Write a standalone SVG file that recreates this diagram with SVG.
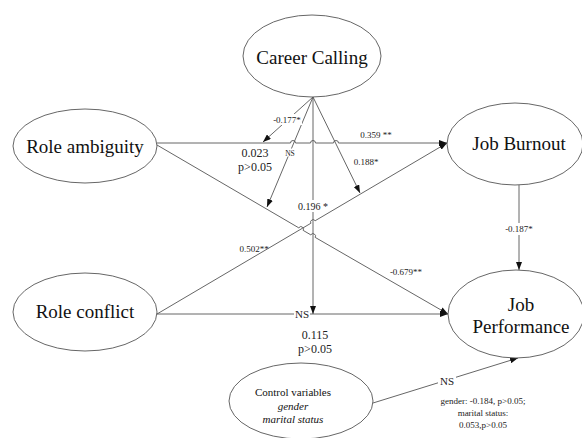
<svg xmlns="http://www.w3.org/2000/svg" width="582" height="438" viewBox="0 0 582 438">
<style>
.node{fill:#fff;stroke:#555;stroke-width:0.9}
.big{font-family:"Liberation Serif",serif;font-size:19px;fill:#111;text-anchor:middle}
.ctl{font-family:"Liberation Serif",serif;font-size:11px;fill:#111;text-anchor:middle}
.it{font-style:italic}
.edge{fill:none;stroke:#555;stroke-width:0.9}
.arr{marker-end:url(#ah)}
.lbl{font-family:"Liberation Serif",serif;font-size:9px;fill:#222;text-anchor:middle}
.mid{font-family:"Liberation Serif",serif;font-size:12px;fill:#222;text-anchor:middle}
.ns{font-family:"Liberation Serif",serif;font-size:11px;fill:#222;text-anchor:middle}
.bg{fill:#fff;stroke:none}
</style>
<defs>
<marker id="ah" markerUnits="userSpaceOnUse" markerWidth="8" markerHeight="6" refX="8" refY="3" orient="auto">
<path d="M0,0 L8,3 L0,6 z" fill="#111"/>
</marker>
</defs>
<rect width="582" height="438" fill="#fff"/>

<g id="connectors">
<path class="edge arr" d="M157,143 H290.5 a2.5,2.5 0 0 1 5,0 H310.5 a2.5,2.5 0 0 1 5,0 H333.5 a2.5,2.5 0 0 1 5,0 H447"/>
<path class="edge arr" d="M157,145 L298.84,227.86 A2.5,2.5 0 0 1 303.16,230.39 L310.84,234.87 A2.5,2.5 0 0 1 315.16,237.39 L448,314"/>
<path class="edge arr" d="M157,314 L310.85,223.27 A2.5,2.5 0 0 1 315.15,220.74 L447,143"/>
<path class="edge arr" d="M157,314 H448"/>
<path class="edge arr" d="M313,97 V314"/>
<path class="edge arr" d="M313,97 L263,142"/>
<path class="edge arr" d="M313,97 L267,207"/>
<path class="edge arr" d="M313,97 L360,193"/>
<path class="edge arr" d="M519,185 V270"/>
<path class="edge arr" d="M373,403 L518,358"/>
</g>

<g id="edge-labels">
<rect class="bg" x="272" y="114" width="30" height="11"/>
<text class="lbl" x="287" y="123">-0.177*</text>
<rect class="bg" x="285" y="148.5" width="10" height="8"/>
<text class="lbl" x="290" y="155.5" style="font-size:7.5px">NS</text>
<text class="lbl" x="376" y="138">0.359 **</text>
<text class="lbl" x="366" y="165">0.188*</text>
<rect class="bg" x="298" y="200" width="30" height="12"/>
<text class="lbl" x="313" y="209.5" style="font-size:10px">0.196 *</text>
<text class="lbl" x="254" y="252">0.502**</text>
<text class="lbl" x="406" y="275">-0.679**</text>
<rect class="bg" x="503" y="223" width="32" height="12"/>
<text class="lbl" x="519" y="232">-0.187*</text>
<rect class="bg" x="294" y="308" width="16" height="12"/>
<text class="ns" x="302" y="318">NS</text>
<text class="mid" x="255" y="157">0.023</text>
<text class="mid" x="255" y="171">p&gt;0.05</text>
<text class="mid" x="315" y="339">0.115</text>
<text class="mid" x="315" y="353">p&gt;0.05</text>
<rect class="bg" x="438" y="375" width="18" height="12"/>
<text class="ns" x="447" y="385">NS</text>
<text class="lbl" x="483" y="404">gender: -0.184, p&gt;0.05;</text>
<text class="lbl" x="483" y="416">marital status:</text>
<text class="lbl" x="483" y="428">0.053,p&gt;0.05</text>
</g>

<g id="career-calling">
<ellipse class="node" cx="312" cy="56" rx="69" ry="41"/>
<text class="big" x="312" y="64">Career Calling</text>
</g>
<g id="role-ambiguity">
<ellipse class="node" cx="85" cy="146" rx="72" ry="37"/>
<text class="big" x="85" y="153">Role ambiguity</text>
</g>
<g id="role-conflict">
<ellipse class="node" cx="85" cy="312" rx="72" ry="39"/>
<text class="big" x="85" y="318">Role conflict</text>
</g>
<g id="job-burnout">
<ellipse class="node" cx="515" cy="144" rx="68" ry="41"/>
<text class="big" x="519" y="150">Job Burnout</text>
</g>
<g id="job-performance">
<ellipse class="node" cx="516" cy="314" rx="68" ry="44"/>
<text class="big" x="521" y="311">Job</text>
<text class="big" x="521" y="333">Performance</text>
</g>
<g id="control-variables">
<ellipse class="node" cx="301" cy="401" rx="72" ry="38"/>
<text class="ctl" x="293" y="396">Control variables</text>
<text class="ctl it" x="293" y="410">gender</text>
<text class="ctl it" x="293" y="423">marital status</text>
</g>
</svg>
